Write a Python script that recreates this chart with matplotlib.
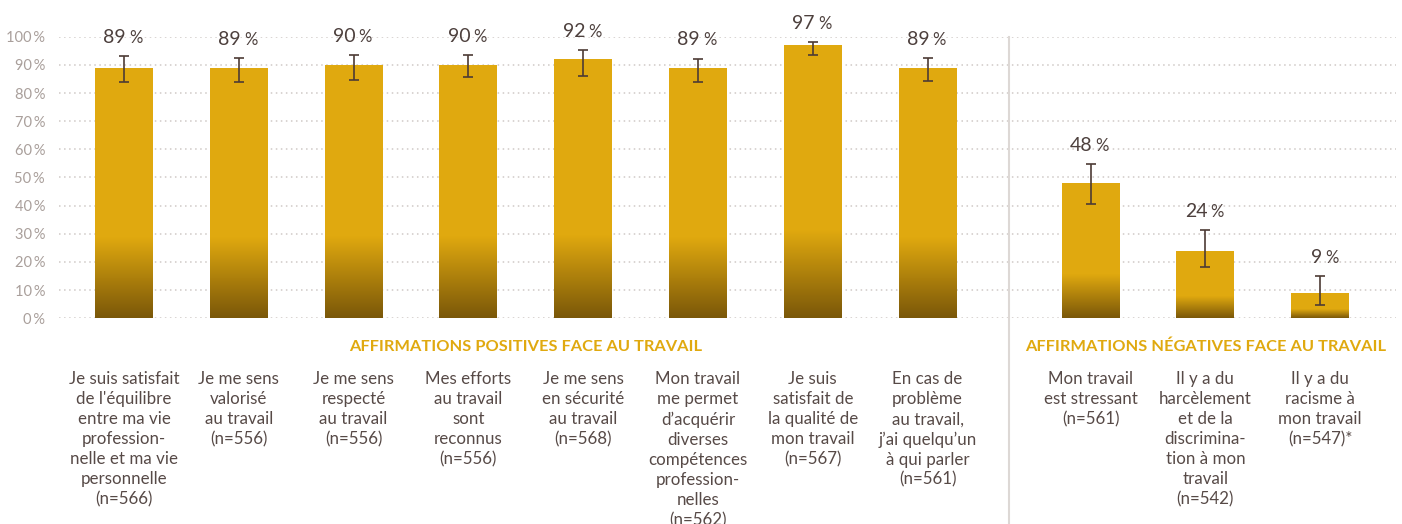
import numpy as np
import matplotlib
matplotlib.use("Agg")
import matplotlib.pyplot as plt
from matplotlib.colors import LinearSegmentedColormap
from matplotlib.lines import Line2D

# ---------------- data ----------------
categories = [
    "Je suis satisfait\nde l'équilibre\nentre ma vie\nprofession-\nnelle et ma vie\npersonnelle\n(n=566)",
    "Je me sens\nvalorisé\nau travail\n(n=556)",
    "Je me sens\nrespecté\nau travail\n(n=556)",
    "Mes efforts\nau travail\nsont\nreconnus\n(n=556)",
    "Je me sens\nen sécurité\nau travail\n(n=568)",
    "Mon travail\nme permet\nd’acquérir\ndiverses\ncompétences\nprofession-\nnelles\n(n=562)",
    "Je suis\nsatisfait de\nla qualité de\nmon travail\n(n=567)",
    "En cas de\nproblème\nau travail,\nj’ai quelqu’un\nà qui parler\n(n=561)",
    "Mon travail\nest stressant\n(n=561)",
    "Il y a du\nharcèlement\net de la\ndiscrimina-\ntion à mon\ntravail\n(n=542)",
    "Il y a du\nracisme à\nmon travail\n(n=547)*",
]
values = [89, 89, 90, 90, 92, 89, 97, 89, 48, 24, 9]
err_low = [83.9, 83.9, 84.7, 85.8, 85.9, 84.0, 93.5, 84.4, 40.6, 18.1, 4.7]
err_high = [93.2, 92.3, 93.5, 93.6, 95.2, 92.2, 98.0, 92.5, 54.8, 31.2, 14.9]
group_names = ["AFFIRMATIONS POSITIVES FACE AU TRAVAIL",
               "AFFIRMATIONS NÉGATIVES FACE AU TRAVAIL"]
group_sizes = [8, 3]
yticks = [0, 10, 20, 30, 40, 50, 60, 70, 80, 90, 100]

# ---------------- style ----------------
FONT = ["Lato", "DejaVu Sans"]
plt.rcParams["font.family"] = FONT
GOLD = "#E0A90F"
DARK = "#7A5709"
TXT = "#574a47"
VAL = "#4d403d"
TICK = "#a99f9b"
ERR = "#4d3b35"
GRID = "#cfc9c6"
SEP = "#ddd8d5"

W, H = 1402, 524
fig = plt.figure(figsize=(W / 100, H / 100), dpi=100)
ax_left, ax_right, y0, y100 = 59, 1396, 318.3, 36.7
ax = fig.add_axes([ax_left / W, 1 - y0 / H, (ax_right - ax_left) / W, (y0 - y100) / H])

gap = 0.42
x = np.arange(len(values), dtype=float)
x[group_sizes[0]:] += gap
bw = 0.505

ax.set_xlim(-0.566, 11.08)
ax.set_ylim(0, 100)
for s in ax.spines.values():
    s.set_visible(False)
ax.tick_params(length=0)
ax.set_xticks([])
ax.set_yticks(yticks)
ax.set_yticklabels([f"{t}\u2009%" for t in yticks], color=TICK, fontsize=10.5)
ax.tick_params(axis="y", pad=10)
ax.yaxis.grid(True, color=GRID, linewidth=1.1, linestyle=(0, (1, 2.3)))
ax.set_axisbelow(True)

bars = ax.bar(x, values, width=bw, color=GOLD, zorder=2)
cmap = LinearSegmentedColormap.from_list("g", [DARK, GOLD])
grad = np.linspace(0, 1, 256).reshape(-1, 1)
for b in bars:
    bx, by = b.get_x(), b.get_y()
    bh = b.get_height()
    ax.imshow(grad, cmap=cmap, origin="lower", aspect="auto",
              extent=[bx, bx + b.get_width(), by, by + bh * 0.32],
              zorder=2.5, interpolation="bicubic")
ax.set_xlim(-0.566, 11.08)
ax.set_ylim(0, 100)

v = np.array(values, dtype=float)
yerr = np.vstack([v - np.array(err_low), np.array(err_high) - v])
ax.errorbar(x, v, yerr=yerr, fmt="none", ecolor=ERR, elinewidth=1.2,
            capsize=3.3, capthick=1.2, zorder=4, clip_on=False)

for xi, vi, hi in zip(x, values, err_high):
    ax.annotate(f"{vi}", (xi, hi), xytext=(1.5, 9.5), textcoords="offset points",
                ha="right", va="baseline", fontsize=14, color=VAL, annotation_clip=False)
    ax.annotate("%", (xi, hi), xytext=(3.6, 9.5), textcoords="offset points",
                ha="left", va="baseline", fontsize=12, color=VAL, annotation_clip=False)

for xi, lab in zip(x, categories):
    ax.annotate(lab, (xi, 0), xytext=(0, -38), textcoords="offset points",
                ha="center", va="top", fontsize=12.2, color=TXT,
                linespacing=1.31, annotation_clip=False)

start = 0
for name, n in zip(group_names, group_sizes):
    cx = (x[start] + x[start + n - 1]) / 2
    ax.annotate(name, (cx, 0), xytext=(0, -20.5), textcoords="offset points",
                ha="center", va="center", fontsize=11.8, fontweight="bold",
                color=GOLD, annotation_clip=False)
    start += n

sep_x = (x[group_sizes[0] - 1] + x[group_sizes[0]]) / 2
ax.add_line(Line2D([sep_x, sep_x], [1.0, -0.75], transform=ax.get_xaxis_transform(),
                   color=SEP, linewidth=1.5, clip_on=False, zorder=1))

fig.savefig("out.png", dpi=100)
